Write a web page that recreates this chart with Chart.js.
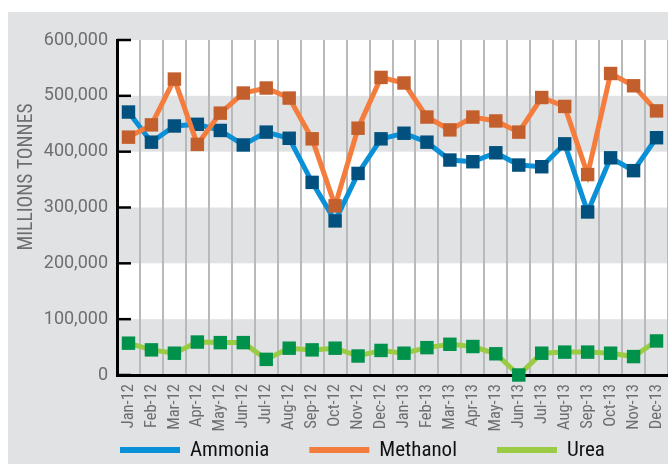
<!DOCTYPE html>
<html>
<head>
<meta charset="utf-8">
<script src="https://cdn.jsdelivr.net/npm/chart.js@4.4.1/dist/chart.umd.min.js"></script>
<style>
html, body { margin: 0; padding: 0; background: #fff; }
#box { position: absolute; left: 8px; top: 12px; width: 660px; height: 452px; background: #e1e2e4; }
</style>
</head>
<body>
<div id="box"><canvas id="myChart" width="660" height="452"></canvas></div>
<script>
var months = ['Jan-12','Feb-12','Mar-12','Apr-12','May-12','Jun-12','Jul-12','Aug-12','Sep-12','Oct-12','Nov-12','Dec-12',
              'Jan-13','Feb-13','Mar-13','Apr-13','May-13','Jun-13','Jul-13','Aug-13','Sep-13','Oct-13','Nov-13','Dec-13'];
var ammonia  = [471000,417000,446000,449000,438000,412000,435000,424000,345000,276000,361000,423000,
                433000,417000,385000,382000,398000,376000,373000,414000,292000,389000,366000,425000];
var methanol = [426000,448000,530000,413000,469000,505000,514000,496000,423000,303000,442000,533000,
                523000,462000,439000,462000,455000,435000,497000,481000,359000,540000,518000,473000];
var urea     = [57000,45000,39000,59000,58000,58000,28000,48000,45000,48000,34000,44000,
                39000,49000,55000,51000,38000,0,39000,41000,41000,39000,33000,61000];
var yTicks = [0,100000,200000,300000,400000,500000,600000];
var whiteBands = [[100000,200000],[300000,400000],[500000,600000]];
var yTitle = 'MILLIONS TONNES';

var labelGray = '#6d6e70';
var narrow = '"Roboto Condensed", "Liberation Sans Narrow", sans-serif';

var decor = {
    id: 'decor',
    beforeDraw: function(chart) {
        var ctx = chart.ctx, a = chart.chartArea, y = chart.scales.y;
        ctx.save();
        ctx.fillStyle = '#ffffff';
        whiteBands.forEach(function(b) {
            var top = y.getPixelForValue(b[1]);
            var bot = y.getPixelForValue(b[0]);
            ctx.fillRect(a.left, top, a.right - a.left, bot - top);
        });
        ctx.restore();
    },
    beforeDatasetsDraw: function(chart) {
        // short black ticks pointing into the plot
        var ctx = chart.ctx, a = chart.chartArea, y = chart.scales.y;
        ctx.save();
        ctx.strokeStyle = '#000';
        ctx.lineWidth = 2.5;
        yTicks.forEach(function(v) {
            var py = y.getPixelForValue(v);
            ctx.beginPath();
            ctx.moveTo(a.left, py);
            ctx.lineTo(a.left + 14, py);
            ctx.stroke();
        });
        ctx.restore();
    },
    afterDraw: function(chart) {
        var ctx = chart.ctx;
        ctx.save();
        // axis title
        ctx.translate(19, 165);
        ctx.rotate(-Math.PI / 2);
        ctx.fillStyle = labelGray;
        ctx.font = '19.5px ' + narrow;
        ctx.textAlign = 'center';
        ctx.textBaseline = 'middle';
        ctx.fillText(yTitle, 0, 0);
        ctx.restore();

        // legend
        ctx.save();
        ctx.font = '21px ' + narrow;
        ctx.textBaseline = 'middle';
        ctx.textAlign = 'left';
        var x = 112, ly = 438;
        chart.data.datasets.forEach(function(ds) {
            ctx.fillStyle = ds.borderColor;
            ctx.fillRect(x, ly - 3, 60, 6);
            ctx.fillStyle = '#111';
            ctx.fillText(ds.label, x + 70, ly + 1);
            x += 70 + ctx.measureText(ds.label).width + 40;
        });
        ctx.restore();
    }
};

var ctx = document.getElementById('myChart');

var myChart = new Chart(ctx, {
    type: 'line',
    data: {
        labels: months,
        datasets: [{
            label: 'Ammonia',
            data: ammonia,
            borderColor: '#0a90d6',
            pointBackgroundColor: '#02507d',
            order: 1
        }, {
            label: 'Methanol',
            data: methanol,
            borderColor: '#f47c3c',
            pointBackgroundColor: '#c25f2d',
            order: 0
        }, {
            label: 'Urea',
            data: urea,
            borderColor: '#9bcb45',
            pointBackgroundColor: '#00914b',
            order: 2
        }]
    },
    options: {
        responsive: false,
        animation: false,
        events: [],
        layout: {
            autoPadding: false,
            padding: {top: 28, left: 0, right: 0, bottom: 9}
        },
        elements: {
            line: { borderWidth: 5, tension: 0 },
            point: { pointStyle: 'rect', radius: 9.5, borderWidth: 0 }
        },
        datasets: {
            line: { clip: false }
        },
        scales: {
            x: {
                offset: true,
                grid: { offset: true, color: '#b8b9bb', lineWidth: 2, drawTicks: false },
                border: { display: true, color: '#000', width: 3 },
                ticks: {
                    autoSkip: false,
                    minRotation: 90,
                    maxRotation: 90,
                    padding: 9,
                    color: labelGray,
                    font: { family: narrow, size: 16.5 }
                },
                afterFit: function(s) {
                    s.height = 80;
                    s.paddingLeft = 0;
                    s.paddingRight = 0;
                }
            },
            y: {
                min: 0,
                max: 600000,
                grid: { display: false, drawTicks: false },
                border: { display: true, color: '#000', width: 3 },
                ticks: {
                    stepSize: 100000,
                    padding: 9,
                    color: labelGray,
                    font: { family: 'Roboto, sans-serif', size: 18 },
                    callback: function(v) { return v.toLocaleString('en-US'); }
                },
                afterFit: function(s) { s.width = 109; }
            }
        },
        plugins: {
            legend: { display: false },
            tooltip: { enabled: false }
        }
    },
    plugins: [decor]
});
</script>
</body>
</html>
